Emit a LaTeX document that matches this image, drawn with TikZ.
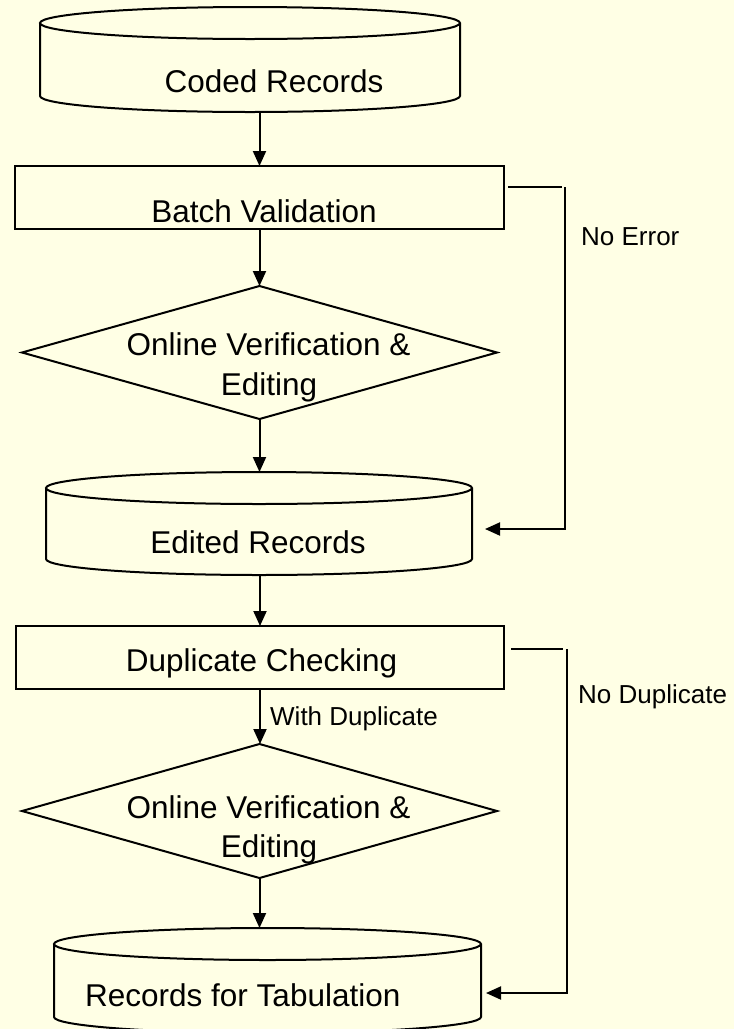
\documentclass[tikz,border=0pt]{standalone}
\usepackage{fontspec}
\setmainfont{Liberation Sans}
\usetikzlibrary{arrows.meta,calc}
\definecolor{bgyellow}{HTML}{FFFFE5}
\newcommand\drawcyl[2]{%
  \draw[line] let \p1=(#1.north west), \p2=(#1.south east) in
    (\x1,\y1-#2pt) -- (\x1,\y2+#2pt)
    arc[start angle=180, end angle=360, x radius={(\x2-\x1)/2}, y radius=#2pt]
    -- (\x2,\y1-#2pt)
    ({(\x1+\x2)/2},\y1-#2pt) ellipse[x radius={(\x2-\x1)/2}, y radius=#2pt];
}
\newcommand\drawdiam[1]{%
  \draw[line] (#1.north) -- (#1.east) -- (#1.south) -- (#1.west) -- cycle;
}
\begin{document}
\begin{tikzpicture}[x=1pt,y=1pt,
  line/.style={line width=2pt, draw=black, line join=miter},
  arr/.style={line, -{Triangle[length=15pt,width=13pt]}},
  shapebox/.style 2 args={draw=none, inner sep=0pt, outer sep=0pt, minimum width=#1, minimum height=#2},
  rectbox/.style 2 args={line, inner sep=0pt, outer sep=0pt, minimum width=#1, minimum height=#2},
  maintxt/.style={font=\fontsize{31.5}{38}\selectfont, inner sep=0pt, anchor=base},
  labeltxt/.style={font=\fontsize{26}{31}\selectfont, inner sep=0pt, anchor=base west},
]
\fill[bgyellow] (0,0) rectangle (734,-1029);
\useasboundingbox (0,0) rectangle (734,-1029);

% shapes
\node[shapebox={420}{105}] (coded) at (250,-59.5) {};
\node[rectbox={489}{63}] (batch) at (259.5,-197.5) {};
\node[shapebox={475}{133}] (diaA) at (259.5,-352.5) {};
\node[shapebox={426}{103}] (edited) at (259,-523.5) {};
\node[rectbox={488}{63}] (dup) at (260,-657.5) {};
\node[shapebox={475}{134}] (diaB) at (259.5,-811) {};
\node[shapebox={427}{105}] (records) at (267.5,-980.5) {};

\drawcyl{coded}{16}
\drawcyl{edited}{16}
\drawcyl{records}{16}
\drawdiam{diaA}
\drawdiam{diaB}

% texts
\node[maintxt] (codedT) at (274,-92) {Coded Records};
\node[maintxt] (batchT) at (264,-222) {Batch Validation};
\node[maintxt] (diaAT1) at (268.5,-355) {Online Verification \&};
\node[maintxt] (diaAT2) at (269,-395) {Editing};
\node[maintxt] (editedT) at (258,-553) {Edited Records};
\node[maintxt] (dupT) at (261.5,-671) {Duplicate Checking};
\node[maintxt] (diaBT1) at (268.5,-818) {Online Verification \&};
\node[maintxt] (diaBT2) at (269,-857) {Editing};
\node[maintxt, anchor=base west] (recordsT) at (85,-1006) {Records for Tabulation};

% main flow
\draw[arr] (coded.south -| batch.north) -- (batch.north);
\draw[arr] (batch.south) -- (diaA.north);
\draw[arr] (diaA.south) -- (diaA.south |- edited.north);
\draw[arr] (edited.south -| dup.north) -- (dup.north);
\draw[arr] (dup.south) -- (dup.south |- diaB.north);
\draw[arr] (diaB.south) -- (diaB.south |- records.north);
\node[labeltxt] (withdup) at (270,-725) {With Duplicate};

% No Error loop
\coordinate (ne1) at (508,-187);
\coordinate (ne2) at (562,-187);
\coordinate (ne3) at (565,-187);
\coordinate (ne4) at (565,-529);
\coordinate (ne5) at (485,-529);
\draw[line] (ne1) -- (ne2);
\draw[arr] (ne3) -- (ne4) -- (ne5);
\node[labeltxt] (noerr) at (581,-245) {No Error};

% No Duplicate loop
\coordinate (nd1) at (511,-649);
\coordinate (nd2) at (563,-649);
\coordinate (nd3) at (567,-649);
\coordinate (nd4) at (567,-993);
\coordinate (nd5) at (486,-993);
\draw[line] (nd1) -- (nd2);
\draw[arr] (nd3) -- (nd4) -- (nd5);
\node[labeltxt] (nodup) at (578,-703) {No Duplicate};
\end{tikzpicture}
\end{document}
